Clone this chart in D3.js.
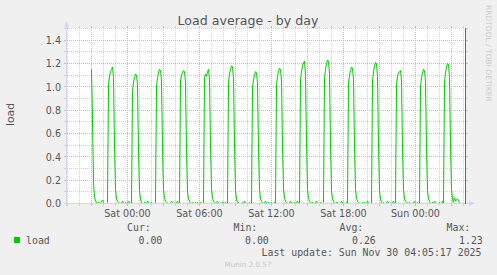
<!DOCTYPE html>
<html>
<head>
<meta charset="utf-8">
<script src="https://cdn.jsdelivr.net/npm/d3@7/dist/d3.min.js"></script>
<style>
  html, body { margin: 0; padding: 0; background: #f0f0f0; }
  svg { display: block; }
</style>
</head>
<body>
<div id="chart"></div>
<script>
// Data: one load sample every 5 minutes, starting Fri 21:00.
// Each row is one 2h cycle (24 samples).
const loadStart = new Date(2025, 10, 28, 21, 0);
const stepMinutes = 5;
const loadRows = [
  [1.15, 0.72, 0.18, 0.06, 0.02, 0.01, 0.00, 0.01, 0.00, 0.00, 0.02, 0.03, 0.01, 0.00, 0.00, 0.00, 0.01, 1.02, 1.09, 1.13, 1.15, 1.17, 1.08, 0.50],
  [0.12, 0.04, 0.02, 0.01, 0.00, 0.00, 0.01, 0.02, 0.00, 0.00, 0.01, 0.00, 0.00, 0.02, 0.01, 0.00, 0.00, 0.96, 1.04, 1.08, 1.11, 1.10, 1.02, 0.45],
  [0.11, 0.04, 0.01, 0.00, 0.00, 0.01, 0.00, 0.00, 0.02, 0.01, 0.00, 0.00, 0.01, 0.00, 0.00, 0.00, 0.01, 1.00, 1.08, 1.12, 1.15, 1.14, 1.05, 0.48],
  [0.12, 0.05, 0.02, 0.01, 0.00, 0.00, 0.00, 0.01, 0.02, 0.01, 0.00, 0.00, 0.00, 0.01, 0.02, 0.00, 0.00, 1.05, 1.10, 1.12, 1.14, 1.13, 1.04, 0.46],
  [0.10, 0.04, 0.02, 0.00, 0.00, 0.01, 0.00, 0.00, 0.01, 0.00, 0.01, 0.00, 0.00, 0.01, 0.00, 0.00, 0.00, 1.08, 1.11, 1.09, 1.13, 1.15, 1.06, 0.50],
  [0.13, 0.05, 0.02, 0.01, 0.00, 0.00, 0.02, 0.01, 0.00, 0.00, 0.00, 0.01, 0.01, 0.00, 0.01, 0.00, 0.00, 1.04, 1.11, 1.15, 1.18, 1.17, 1.07, 0.52],
  [0.11, 0.04, 0.01, 0.01, 0.00, 0.00, 0.00, 0.01, 0.00, 0.02, 0.01, 0.00, 0.00, 0.00, 0.01, 0.00, 0.00, 0.99, 1.06, 1.10, 1.13, 1.12, 1.03, 0.47],
  [0.12, 0.04, 0.02, 0.00, 0.00, 0.01, 0.02, 0.00, 0.00, 0.01, 0.00, 0.00, 0.01, 0.00, 0.00, 0.01, 0.00, 1.01, 1.09, 1.13, 1.16, 1.15, 1.05, 0.49],
  [0.13, 0.05, 0.02, 0.01, 0.00, 0.00, 0.00, 0.02, 0.01, 0.00, 0.00, 0.01, 0.00, 0.00, 0.02, 0.01, 0.00, 1.06, 1.13, 1.18, 1.21, 1.22, 1.10, 0.53],
  [0.12, 0.05, 0.02, 0.01, 0.00, 0.01, 0.00, 0.00, 0.01, 0.02, 0.00, 0.00, 0.00, 0.01, 0.00, 0.00, 0.01, 1.07, 1.15, 1.20, 1.23, 1.22, 1.11, 0.52],
  [0.11, 0.04, 0.02, 0.00, 0.00, 0.01, 0.01, 0.00, 0.00, 0.00, 0.02, 0.01, 0.00, 0.00, 0.00, 0.01, 0.00, 1.03, 1.10, 1.14, 1.17, 1.16, 1.06, 0.49],
  [0.12, 0.05, 0.02, 0.01, 0.00, 0.00, 0.00, 0.01, 0.00, 0.01, 0.00, 0.00, 0.02, 0.01, 0.00, 0.00, 0.00, 1.05, 1.13, 1.18, 1.21, 1.20, 1.09, 0.51],
  [0.11, 0.04, 0.01, 0.00, 0.01, 0.00, 0.00, 0.00, 0.02, 0.01, 0.00, 0.00, 0.00, 0.01, 0.02, 0.00, 0.00, 1.02, 1.09, 1.12, 1.13, 1.14, 1.05, 0.47],
  [0.12, 0.04, 0.02, 0.01, 0.00, 0.00, 0.01, 0.00, 0.00, 0.00, 0.01, 0.02, 0.00, 0.00, 0.01, 0.00, 0.00, 1.00, 1.08, 1.12, 1.15, 1.14, 1.04, 0.48],
  [0.11, 0.04, 0.02, 0.00, 0.00, 0.01, 0.00, 0.02, 0.01, 0.00, 0.00, 0.00, 0.01, 0.00, 0.00, 0.02, 0.00, 1.04, 1.12, 1.17, 1.20, 1.19, 1.08, 0.50],
  [0.12, 0.04, 0.01, 0.05, 0.02, 0.03, 0.04, 0.02, 0.01, 0.00, 0.00]
];

const yTickValues = [0.0, 0.2, 0.4, 0.6, 0.8, 1.0, 1.2, 1.4];
const xLabelTimes = [
  new Date(2025, 10, 29, 0), new Date(2025, 10, 29, 6), new Date(2025, 10, 29, 12),
  new Date(2025, 10, 29, 18), new Date(2025, 10, 30, 0)
];
const xLabelTexts = ["Sat 00:00", "Sat 06:00", "Sat 12:00", "Sat 18:00", "Sun 00:00"];
const legendHeads = ["Cur:", "Min:", "Avg:", "Max:"];
const legendValues = ["0.00", "0.00", "0.26", "1.23"];
const seriesName = "load";
const lastUpdate = "Last update: Sun Nov 30 04:05:17 2025";

const W = 497, H = 275;
const sans = "'DejaVu Sans', sans-serif";
const mono = "'DejaVu Sans Mono', monospace";
const textColor = "#555";
const axisColor = "#cfd6f8";

const svg = d3.select("#chart").append("svg")
  .attr("width", W).attr("height", H);

svg.append("rect").attr("width", W).attr("height", H).attr("fill", "#f0f0f0");

// Scales: 5 min per pixel, 175px high canvas
const x = d3.scaleTime()
  .domain([new Date(2025, 10, 28, 18, 55), new Date(2025, 10, 30, 4, 15)])
  .range([66.5, 466.5]);
const y = d3.scaleLinear().domain([0, 1.5]).range([203.5, 28.5]);

const plotLeft = 66.5, plotRight = 465.5, plotTop = 28, plotBottom = 203.5;

// Canvas
svg.append("rect").attr("x", 67).attr("y", plotTop)
  .attr("width", plotRight - 67).attr("height", plotBottom - plotTop - 0.5)
  .attr("fill", "#fff");

// Grid (dotted, hourly minor / 3-hourly major)
const minorCol = "#d0d0d0", majorCol = "#e9aaaa";
const grid = svg.append("g").attr("shape-rendering", "crispEdges");

const hours = d3.timeHour.range(x.domain()[0], new Date(2025, 10, 30, 4, 10));
hours.forEach(t => {
  const xv = Math.round(x(t) - 0.5) + 0.5;
  if (xv <= plotLeft + 0.5) return;
  const col = t.getHours() % 3 === 0 ? majorCol : minorCol;
  grid.append("line").attr("x1", xv).attr("x2", xv).attr("y1", plotTop).attr("y2", plotBottom)
    .attr("stroke", col).attr("stroke-dasharray", "1,1");
  grid.append("line").attr("x1", xv).attr("x2", xv).attr("y1", plotBottom).attr("y2", plotBottom + 2.5).attr("stroke", col);
  grid.append("line").attr("x1", xv).attr("x2", xv).attr("y1", plotTop - 2).attr("y2", plotTop).attr("stroke", col);
});

d3.range(1, 16).forEach(i => {
  const v = i / 10;
  const yv = Math.round(y(v) - 0.5) + 0.5;
  const col = i % 2 === 0 ? majorCol : minorCol;
  grid.append("line").attr("x1", plotLeft).attr("x2", plotRight).attr("y1", yv).attr("y2", yv)
    .attr("stroke", col).attr("stroke-dasharray", "1,1");
  grid.append("line").attr("x1", plotLeft - 2.5).attr("x2", plotLeft).attr("y1", yv).attr("y2", yv).attr("stroke", col);
  grid.append("line").attr("x1", plotRight).attr("x2", plotRight + 2.5).attr("y1", yv).attr("y2", yv).attr("stroke", col);
});

// Series
const loadValues = loadRows.flat();
const loadData = loadValues.map((v, i) => ({ t: d3.timeMinute.offset(loadStart, i * stepMinutes), v }));
const line = d3.line().x(d => x(d.t)).y(d => y(d.v));
svg.append("path").datum(loadData)
  .attr("d", line)
  .attr("fill", "none")
  .attr("stroke", "#00cc00")
  .attr("stroke-width", 1);

// Axes with arrows
const axes = svg.append("g").attr("shape-rendering", "crispEdges");
axes.append("line").attr("x1", plotLeft).attr("x2", plotLeft).attr("y1", 26).attr("y2", 206).attr("stroke", axisColor);
axes.append("line").attr("x1", 64).attr("x2", 470).attr("y1", plotBottom).attr("y2", plotBottom).attr("stroke", axisColor);
svg.append("path").attr("d", `M${plotLeft},21 L${plotLeft - 2.5},27 L${plotLeft + 2.5},27 Z`).attr("fill", axisColor);
svg.append("path").attr("d", `M475,${plotBottom} L469,${plotBottom - 2.5} L469,${plotBottom + 2.5} Z`).attr("fill", axisColor);

// Right frame
axes.append("line").attr("x1", plotRight).attr("x2", plotRight).attr("y1", plotTop).attr("y2", plotBottom)
  .attr("stroke", "#666");

// Tick labels
svg.append("g").selectAll("text").data(yTickValues).join("text")
  .attr("x", 61).attr("y", d => y(d) + 3.8)
  .attr("text-anchor", "end")
  .attr("font-family", sans).attr("font-size", "9.6px").attr("fill", textColor)
  .text(d => d.toFixed(1));

svg.append("g").selectAll("text").data(xLabelTimes).join("text")
  .attr("x", d => x(d)).attr("y", 216.5)
  .attr("text-anchor", "middle")
  .attr("font-family", sans).attr("font-size", "9.6px").attr("fill", textColor)
  .text((d, i) => xLabelTexts[i]);

// Title and axis label
svg.append("text").attr("x", 248).attr("y", 24.5).attr("text-anchor", "middle")
  .attr("font-family", sans).attr("font-size", "12.6px").attr("fill", textColor)
  .text("Load average - by day");

svg.append("text").attr("transform", "translate(14,114.5) rotate(-90)").attr("text-anchor", "middle")
  .attr("font-family", sans).attr("font-size", "10.8px").attr("fill", textColor)
  .text(seriesName);

svg.append("text").attr("transform", "translate(485.5,5) rotate(90)")
  .attr("font-family", sans).attr("font-size", "7.5px").attr("fill", "#cccccc")
  .text("RRDTOOL / TOBI OETIKER");

// Legend
const headX = [127, 233.5, 339.5, 446.5];
const valX = [138.5, 245, 352, 459];
const legend = svg.append("g").attr("font-family", mono).attr("font-size", "9.9px").attr("fill", textColor);
legend.selectAll(".head").data(legendHeads).join("text").attr("class", "head")
  .attr("x", (d, i) => headX[i]).attr("y", 231).text(d => d);
legend.selectAll(".val").data(legendValues).join("text").attr("class", "val")
  .attr("x", (d, i) => valX[i]).attr("y", 243.5).text(d => d);
legend.append("text").attr("x", 26).attr("y", 243.5).text(seriesName);
legend.append("text").attr("x", 261.5).attr("y", 255.5).text(lastUpdate);
svg.append("rect").attr("x", 14).attr("y", 237).attr("width", 6).attr("height", 6).attr("fill", "#00cc00");

svg.append("text").attr("x", 248).attr("y", 267).attr("text-anchor", "middle")
  .attr("font-family", sans).attr("font-size", "7.2px").attr("fill", "#c8c8c8")
  .text("Munin 2.0.57");
</script>
</body>
</html>
